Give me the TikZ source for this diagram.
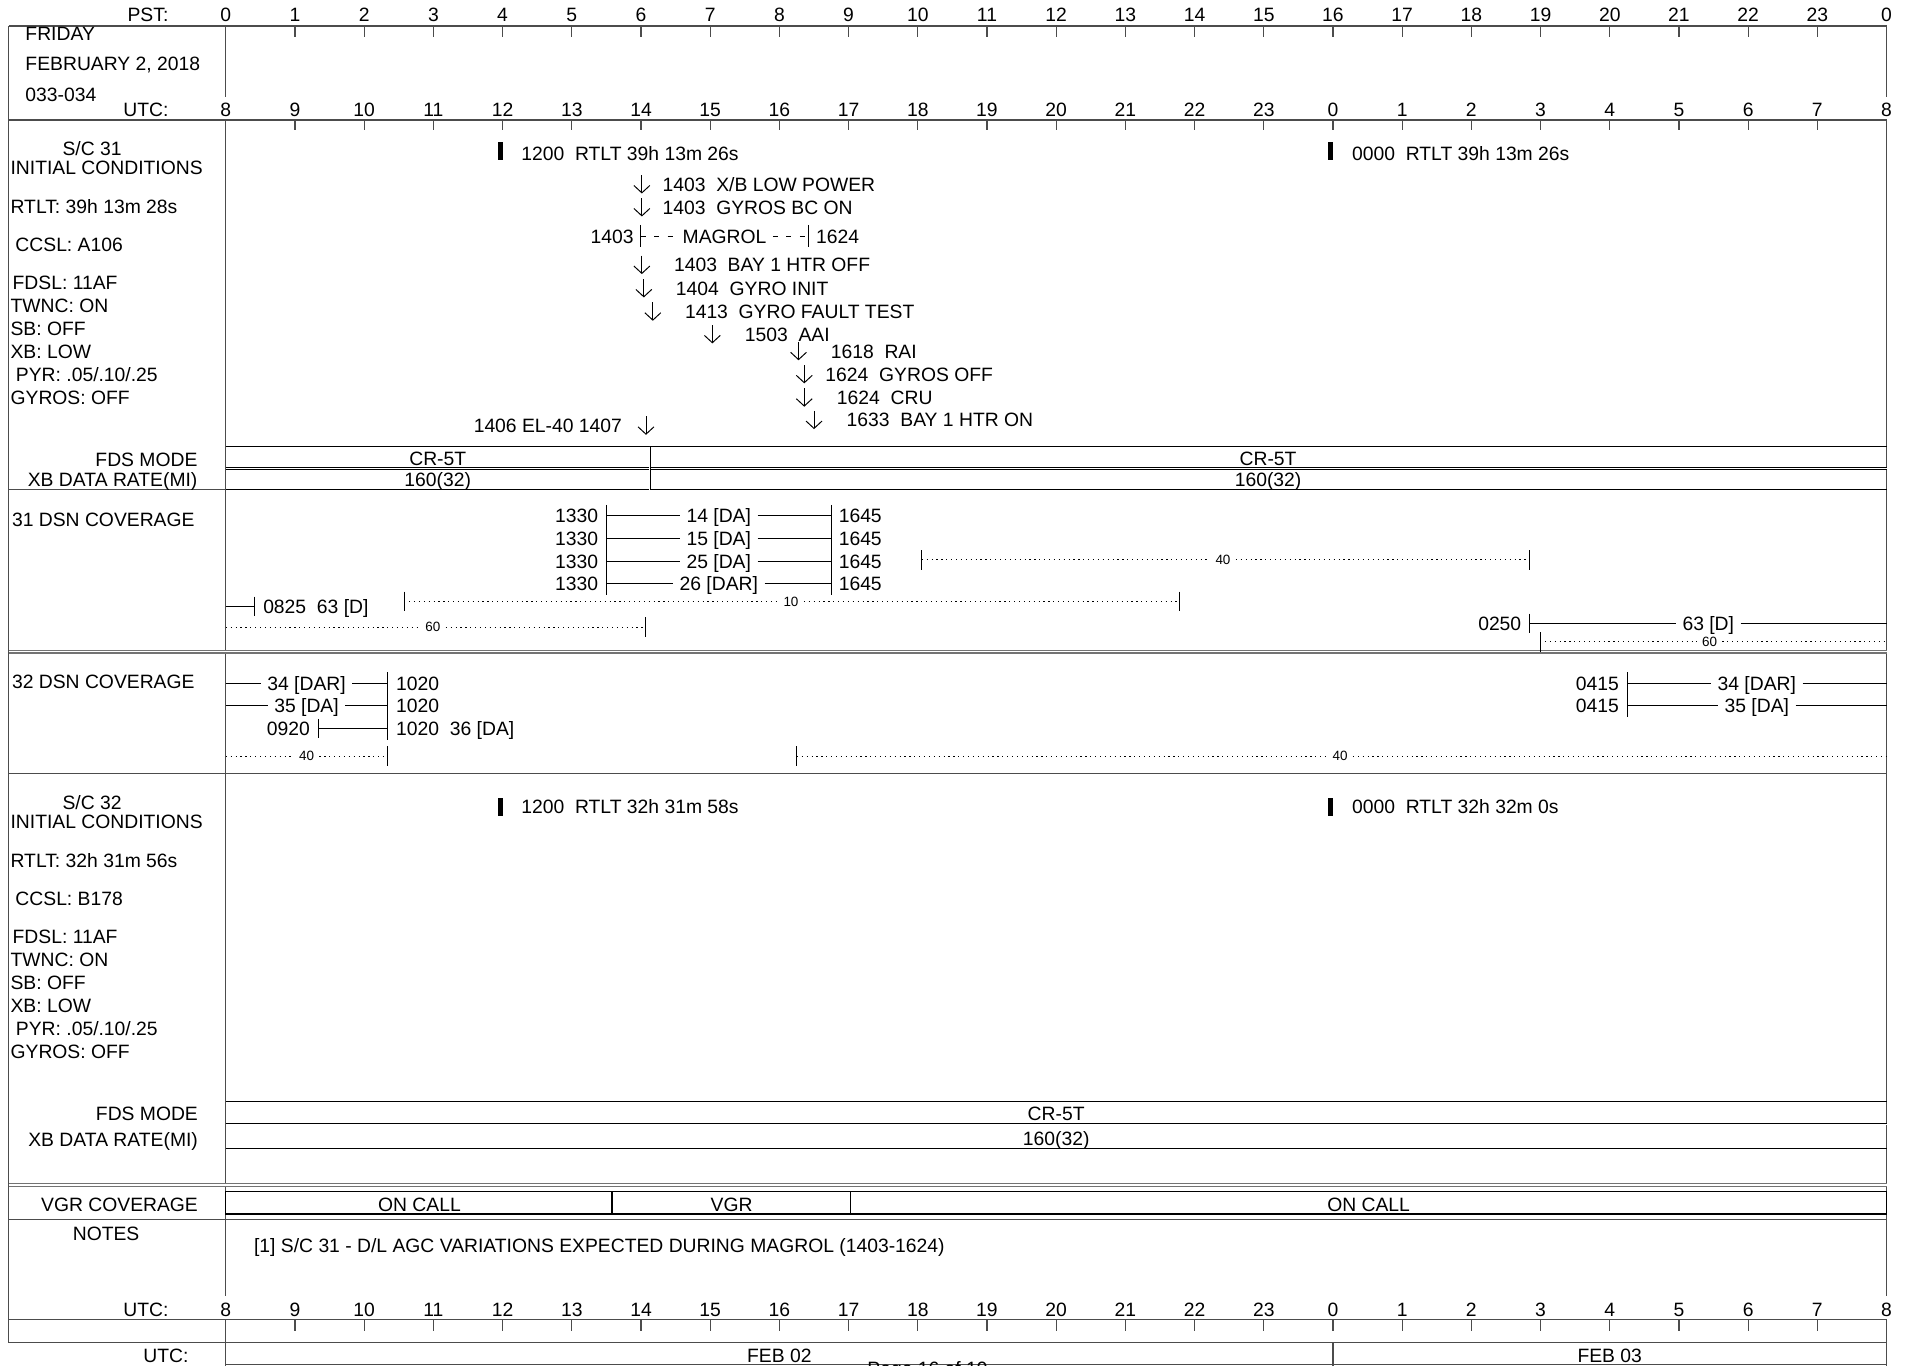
\documentclass[tikz,border=0pt]{standalone}
\usepackage{fontspec}
\setmainfont{Liberation Sans}
\usetikzlibrary{arrows.meta}

\def \hoursep {56.75}
\def \xzero {185.2}
\def \xend {1547.2}
\def \xleft {7}
\tikzstyle{txt}=[inner sep=0pt, font=\fontsize{7.9}{9.5}\selectfont, text height=5.66pt, text depth=0pt]
\tikzstyle{tinytxt}=[inner sep=0pt, inner xsep=2pt, fill=white, font=\fontsize{5.5}{6.5}\selectfont, text height=3.94pt, text depth=0pt]
\tikzstyle{passlbl}=[txt, fill=white, inner xsep=2.5pt]
\tikzstyle{gridline}=[line width=0.5pt, black!70]
\tikzstyle{boxrule}=[line width=0.5pt, black]
\tikzstyle{dblrule}=[line width=0.5pt, black!55, double=white, double distance=0.6pt]
\tikzstyle{boxdbl}=[line width=0.35pt, black, double=white, double distance=0.4pt]
\tikzstyle{pass}=[line width=0.4pt, black]
\tikzstyle{pdots}=[line width=0.45pt, black, dash pattern=on 0.5pt off 1.5pt]
\tikzstyle{magrol}=[line width=0.45pt, black, dash pattern=on 2pt off 3.5pt]
\tikzstyle{evarrow}=[line width=0.4pt, -{Straight Barb[length=3pt, width=6.5pt]}]
\tikzstyle{rtlt}=[fill=black, inner sep=0pt, minimum width=2pt, minimum height=7.5pt]

\newcommand{\evmark}[5]{%
    \coordinate (#1t) at (#2, #3 - 7.5);
    \coordinate (#1h) at (#2, #3 + 7.5);
    \draw[evarrow] (#1t) -- (#1h);
    \node[txt, anchor=west] (#1) at (#4, #3) {#5};
}
\newcommand{\initcond}[5]{%
    \node[txt] (#1sc) at (75.5, #2 + 23.2) {S/C #3};
    \node[txt, anchor=west] (#1ic) at (8.3, #2 + 39) {INITIAL CONDITIONS};
    \node[txt, anchor=west] (#1rt) at (8.3, #2 + 70.6) {RTLT: #4};
    \node[txt, anchor=west] (#1cc) at (12.3, #2 + 102) {CCSL: #5};
    \node[txt, anchor=west] (#1fd) at (10, #2 + 133.3) {FDSL: 11AF};
    \node[txt, anchor=west] (#1tw) at (8.3, #2 + 152) {TWNC: ON};
    \node[txt, anchor=west] (#1sb) at (8.3, #2 + 171) {SB: OFF};
    \node[txt, anchor=west] (#1xb) at (8.3, #2 + 189.2) {XB: LOW};
    \node[txt, anchor=west] (#1py) at (12.7, #2 + 208.5) {PYR: .05/.10/.25};
    \node[txt, anchor=west] (#1gy) at (8.3, #2 + 227) {GYROS: OFF};
}

\begin{document}
\begin{tikzpicture}[x=0.4987pt, y=-0.5pt]
\useasboundingbox (0, 0) rectangle (1568.1, 1117);

\foreach \h in {0, ..., 24} {
    \pgfmathtruncatemacro{\pst}{mod(\h, 24)}
    \pgfmathtruncatemacro{\utc}{mod(\h + 8, 24)}
    \node[txt] (P\h) at (\xzero + \h * \hoursep, 12.3) {\pst};
    \node[txt] (U\h) at (\xzero + \h * \hoursep, 89.4) {\utc};
    \node[txt] (B\h) at (\xzero + \h * \hoursep, 1071.3) {\utc};
}
\foreach \h in {1, ..., 23} {
    \draw[gridline] (\xzero + \h * \hoursep, 21.3) -- ++(0, 9);
    \draw[gridline] (\xzero + \h * \hoursep, 98.1) -- ++(0, 8.5);
    \draw[gridline] (\xzero + \h * \hoursep, 1079.5) -- ++(0, 9.5);
}

\draw[gridline] (\xleft, 21.3) -- (\xend, 21.3) -- (\xend, 79);
\draw[gridline] (\xzero, 21.3) -- (\xzero, 79);
\draw[gridline] (\xleft, 21.3) -- (\xleft, 1098) -- (\xend, 1098);
\draw[gridline] (\xleft, 98.1) -- (\xend, 98.1);
\draw[gridline] (\xzero, 98.1) -- (\xzero, 1060);
\draw[gridline] (\xend, 98.1) -- (\xend, 1060);
\draw[gridline] (\xleft, 400.7) -- (\xend, 400.7);
\draw[dblrule] (\xleft, 533) -- (\xend, 533);
\draw[gridline] (\xleft, 633) -- (\xend, 633);
\draw[dblrule] (\xleft, 969.5) -- (\xend, 969.5);
\draw[gridline] (\xleft, 997.7) -- (\xend, 997.7);
\draw[gridline] (\xleft, 1079.5) -- (\xend, 1079.5);
\draw[gridline] (\xzero, 1079.5) -- (\xzero, 1117);
\draw[gridline] (\xend, 1079.5) -- (\xend, 1117);
\draw[gridline] (1093.2, 1098) -- (1093.2, 1117);
\draw[gridline] (\xzero, 1116.3) -- (\xend, 1116.3);

\node[txt, anchor=east] (PL) at (138.5, 12.3) {PST:};
\node[txt, anchor=east] (UL) at (138.5, 89.4) {UTC:};
\node[txt, anchor=west] (day) at (20.5, 27.8) {FRIDAY};
\node[txt, anchor=west] (date) at (20.5, 52.3) {FEBRUARY 2, 2018};
\node[txt, anchor=west] (doy) at (20.5, 77) {033-034};

% S/C 31
\initcond{a}{98.1}{31}{39h 13m 28s}{A106}
\node[rtlt] (ra1) at (410.5, 123.3) {};
\node[txt, anchor=west] (ta1) at (427.2, 125.4) {1200~~RTLT 39h 13m 26s};
\node[rtlt] (ra2) at (1091.5, 123.3) {};
\node[txt, anchor=west] (ta2) at (1108.5, 125.4) {0000~~RTLT 39h 13m 26s};

\evmark{xb}{526.4}{150.8}{543}{1403~~X/B LOW POWER}
\evmark{gbc}{526.4}{169.6}{543}{1403~~GYROS BC ON}
\evmark{hoff}{526.4}{216.7}{552.4}{1403~~BAY 1 HTR OFF}
\evmark{gin}{528}{235.8}{554}{1404~~GYRO INIT}
\evmark{gft}{535.4}{254.9}{561.4}{1413~~GYRO FAULT TEST}
\evmark{aai}{584.2}{273.4}{610.5}{1503~~AAI}
\evmark{rai}{654.9}{287.2}{681}{1618~~RAI}
\evmark{goff}{659.6}{306.1}{676.6}{1624~~GYROS OFF}
\evmark{cru}{659.6}{325.2}{686}{1624~~CRU}
\evmark{hon}{667.6}{343.5}{694}{1633~~BAY 1 HTR ON}
\coordinate (elt) at (529.8, 340.7);
\coordinate (elh) at (529.8, 355.7);
\draw[evarrow] (elt) -- (elh);
\node[txt, anchor=east] (el) at (510.5, 348.4) {1406 EL-40 1407};

\coordinate (mgs) at (525.5, 193.5);
\coordinate (mge) at (663, 193.5);
\node[txt, anchor=east] (mgst) at (520, 193.5) {1403};
\node[txt, anchor=west] (mget) at (669, 193.5) {1624};
\node[txt, fill=white, inner xsep=2.5pt] (mg) at (594.2, 193.5) {MAGROL};
\draw[magrol] (mgs) -- (mg) -- (mge);
\draw[pass] (525.5, 184) -- (525.5, 202);
\draw[pass] (663, 184) -- (663, 202);

\draw[boxrule] (\xzero, 365.3) -- (\xend, 365.3);
\draw[boxdbl] (\xzero, 383.2) -- (\xend, 383.2);
\draw[boxrule] (\xzero, 400.7) -- (\xend, 400.7);
\draw[boxdbl] (533, 365.3) -- (533, 400.7);
\node[txt, anchor=east] (fma) at (162.3, 375.6) {FDS MODE};
\node[txt, anchor=east] (dra) at (162.3, 392.5) {XB DATA RATE(MI)};
\node[txt] (fma1) at (359, 374.8) {CR-5T};
\node[txt] (dra1) at (359, 392.3) {160(32)};
\node[txt] (fma2) at (1040, 374.8) {CR-5T};
\node[txt] (dra2) at (1040, 392.3) {160(32)};

% 31 DSN
\node[txt, anchor=west] (dsa) at (9.5, 425) {31 DSN COVERAGE};
\foreach \i/\y/\st in {1/422/14 [DA], 2/440.5/15 [DA], 3/459/25 [DA], 4/477.5/26 [DAR]} {
    \coordinate (pa\i) at (497.3, \y);
    \coordinate (pb\i) at (681.8, \y);
    \node[txt, anchor=east] (ps\i) at (491, \y) {1330};
    \node[txt, anchor=west] (pe\i) at (687.5, \y) {1645};
    \node[passlbl] (pl\i) at (589.5, \y) {\st};
    \draw[pass] (pa\i) -- (pl\i) -- (pb\i);
}
\draw[pass] (497.3, 413) -- (497.3, 486.5);
\draw[pass] (681.8, 413) -- (681.8, 486.5);

\coordinate (d40s) at (756, 458);
\coordinate (d40e) at (1254.7, 458);
\node[tinytxt] (d40) at (1003, 458) {40};
\draw[pdots] (d40s) -- (d40) -- (d40e);
\draw[pass] (756, 450) -- (756, 466);
\draw[pass] (1254.7, 450) -- (1254.7, 466);

\coordinate (d10s) at (331.5, 492);
\coordinate (d10e) at (967, 492);
\node[tinytxt] (d10) at (648.7, 492) {10};
\draw[pdots] (d10s) -- (d10) -- (d10e);
\draw[pass] (331.5, 484) -- (331.5, 500);
\draw[pass] (967, 484) -- (967, 500);

\coordinate (s63s) at (\xzero, 496);
\coordinate (s63e) at (208.8, 496);
\draw[pass] (s63s) -- (s63e);
\draw[pass] (208.8, 488) -- (208.8, 504);
\node[txt, anchor=west] (s63) at (215.5, 496) {0825~~63 [D]};

\coordinate (d60s) at (\xzero, 513);
\coordinate (d60e) at (529, 513);
\node[tinytxt] (d60) at (355, 513) {60};
\draw[pdots] (d60s) -- (d60) -- (d60e);
\draw[pass] (529, 505) -- (529, 521);

\coordinate (e63s) at (1254.7, 510);
\coordinate (e63e) at (\xend, 510);
\node[txt, anchor=east] (e63t) at (1248, 510) {0250};
\node[passlbl] (e63) at (1401, 510) {63 [D]};
\draw[pass] (e63s) -- (e63) -- (e63e);
\draw[pass] (1254.7, 502) -- (1254.7, 518);

\coordinate (f60s) at (1263, 525);
\coordinate (f60e) at (\xend, 525);
\node[tinytxt] (f60) at (1402, 525) {60};
\draw[pdots] (f60s) -- (f60) -- (f60e);
\draw[pass] (1263, 517) -- (1263, 533);

% 32 DSN
\node[txt, anchor=west] (dsb) at (9.5, 557.5) {32 DSN COVERAGE};
\foreach \i/\y/\st in {1/559/34 [DAR], 2/577.5/35 [DA]} {
    \coordinate (qa\i) at (\xzero, \y);
    \coordinate (qb\i) at (317.6, \y);
    \node[passlbl] (ql\i) at (251.4, \y) {\st};
    \node[txt, anchor=west] (qe\i) at (324.5, \y) {1020};
    \draw[pass] (qa\i) -- (ql\i) -- (qb\i);
    \coordinate (ra\i) at (1334.4, \y);
    \coordinate (rb\i) at (\xend, \y);
    \node[txt, anchor=east] (rs\i) at (1328, \y) {0415};
    \node[passlbl] (rl\i) at (1440.8, \y) {\st};
    \draw[pass] (ra\i) -- (rl\i) -- (rb\i);
}
\draw[pass] (317.6, 550) -- (317.6, 605);
\draw[pass] (1334.4, 550) -- (1334.4, 586.5);

\coordinate (q36s) at (260.9, 596);
\coordinate (q36e) at (317.6, 596);
\node[txt, anchor=east] (q36t) at (254.5, 596) {0920};
\node[txt, anchor=west] (q36) at (324.5, 596) {1020~~36 [DA]};
\draw[pass] (q36s) -- (q36e);
\draw[pass] (260.9, 588) -- (260.9, 604);

\coordinate (g40s) at (\xzero, 618.5);
\coordinate (g40e) at (317.6, 618.5);
\node[tinytxt] (g40) at (251.4, 618.5) {40};
\draw[pdots] (g40s) -- (g40) -- (g40e);
\draw[pass] (317.6, 610.5) -- (317.6, 626.5);

\coordinate (h40s) at (653.5, 618.5);
\coordinate (h40e) at (\xend, 618.5);
\node[tinytxt] (h40) at (1099, 618.5) {40};
\draw[pdots] (h40s) -- (h40) -- (h40e);
\draw[pass] (653.5, 610.5) -- (653.5, 626.5);

% S/C 32
\initcond{b}{633}{32}{32h 31m 56s}{B178}
\node[rtlt] (rb1) at (410.5, 660) {};
\node[txt, anchor=west] (tb1) at (427.2, 659.7) {1200~~RTLT 32h 31m 58s};
\node[rtlt] (rb2) at (1091.5, 660) {};
\node[txt, anchor=west] (tb2) at (1108.5, 659.7) {0000~~RTLT 32h 32m 0s};

\draw[boxrule] (\xzero, 901) -- (\xend, 901);
\draw[boxdbl] (\xzero, 919.5) -- (\xend, 919.5);
\draw[boxrule] (\xzero, 939.7) -- (\xend, 939.7);
\node[txt, anchor=east] (fmb) at (162.7, 911.3) {FDS MODE};
\node[txt, anchor=east] (drb) at (162.7, 932.3) {XB DATA RATE(MI)};
\node[txt] (fmb1) at (866.2, 911.3) {CR-5T};
\node[txt] (drb1) at (866.2, 931.7) {160(32)};

% VGR
\draw[boxrule] (\xzero, 974.5) rectangle (\xend, 993);
\draw[boxrule] (502, 974.5) -- (502, 993);
\draw[boxrule] (697.6, 974.5) -- (697.6, 993);
\node[txt, anchor=east] (vgl) at (162.7, 985.5) {VGR COVERAGE};
\node[txt] (oc1) at (344, 985) {ON CALL};
\node[txt] (vgr) at (600, 985) {VGR};
\node[txt] (oc2) at (1122.4, 985) {ON CALL};

\node[txt] (ntl) at (87, 1009.4) {NOTES};
\node[txt, anchor=west] (nt1) at (208, 1018.7) {[1] S/C 31 - D/L AGC VARIATIONS EXPECTED DURING MAGROL (1403-1624)};

\node[txt, anchor=east] (BL) at (138.5, 1071.3) {UTC:};
\node[txt, anchor=east] (DL) at (155, 1109) {UTC:};
\node[txt] (feb2) at (639.2, 1109) {FEB 02};
\node[txt] (feb3) at (1320.2, 1109) {FEB 03};
\node[txt, anchor=west] (pg) at (711, 1119.3) {Page 16 of 19};

\end{tikzpicture}
\end{document}
